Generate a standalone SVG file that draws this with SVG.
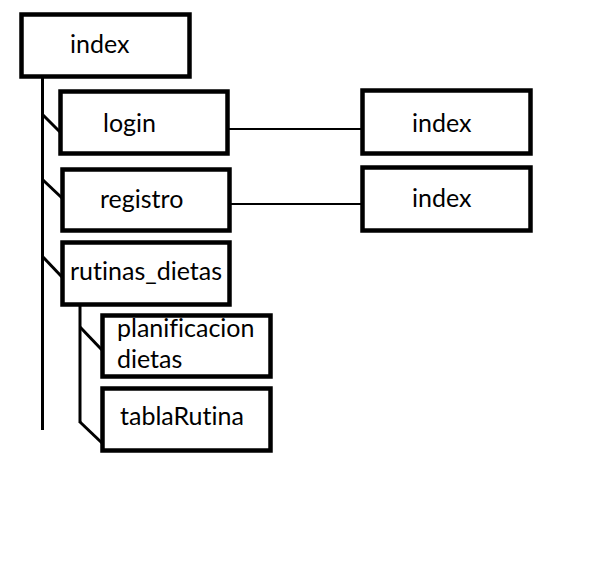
<svg xmlns="http://www.w3.org/2000/svg" width="600" height="576" viewBox="0 0 600 576">
<style>
.box{fill:#fff;stroke:#000;stroke-width:4.5}
.ln{stroke:#000;stroke-width:3;fill:none}
.cn{stroke:#000;stroke-width:2;fill:none}
text{font-family:Lato,"Open Sans",sans-serif;font-size:25px;fill:#000;font-variant-ligatures:none}
</style>
<rect width="600" height="576" fill="#fff"/>
<g id="connectors">
<line class="ln" x1="42.5" y1="77" x2="42.5" y2="430"/>
<line class="ln" x1="43" y1="115" x2="61" y2="133"/>
<line class="ln" x1="43" y1="180" x2="62" y2="198"/>
<line class="ln" x1="43" y1="257" x2="62" y2="277"/>
<line class="ln" x1="80" y1="305" x2="80" y2="423"/>
<line class="ln" x1="80" y1="327" x2="102" y2="350"/>
<line class="ln" x1="80" y1="422" x2="102" y2="443"/>
<line class="cn" x1="228" y1="129" x2="362" y2="129"/>
<line class="cn" x1="230" y1="204" x2="362" y2="204"/>
</g>
<g id="n-index"><rect class="box" x="21.5" y="14.5" width="168" height="62"/><text x="70" y="53">index</text></g>
<g id="n-login"><rect class="box" x="60.5" y="91.5" width="167" height="62"/><text x="103" y="132">login</text></g>
<g id="n-registro"><rect class="box" x="62.5" y="169.5" width="167" height="61"/><text x="100" y="208">registro</text></g>
<g id="n-rutinas"><rect class="box" x="62.5" y="242.5" width="167" height="62"/><text x="70" y="280">rutinas_dietas</text></g>
<g id="n-planificacion"><rect class="box" x="102.5" y="315.5" width="168" height="61"/><text x="117" y="337">planificacion</text><text x="117" y="368">dietas</text></g>
<g id="n-tabla"><rect class="box" x="102.5" y="388.5" width="168" height="62"/><text x="120" y="425">tablaRutina</text></g>
<g id="n-index2"><rect class="box" x="362.5" y="90.5" width="168" height="63"/><text x="412" y="132">index</text></g>
<g id="n-index3"><rect class="box" x="362.5" y="167.5" width="168" height="63"/><text x="412" y="207">index</text></g>
</svg>
